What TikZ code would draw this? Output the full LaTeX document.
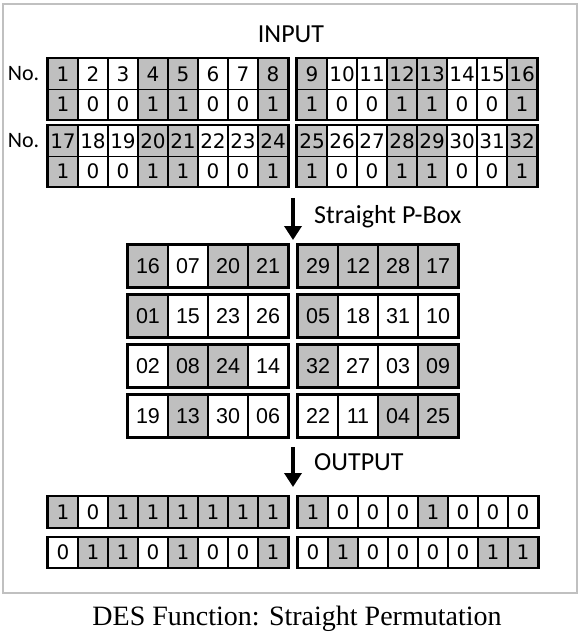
\documentclass[tikz,border=0pt]{standalone}
\usepackage{fontspec}
\setmainfont{Liberation Serif}
\newfontfamily\labelfont{Carlito}
\newfontfamily\bitfont{DejaVu Sans}
\newfontfamily\boxfont{Liberation Sans}
\usetikzlibrary{arrows.meta}

\definecolor{shade}{RGB}{191,191,191}
\definecolor{framegray}{RGB}{192,192,192}

\tikzset{
  bitcell/.style={draw, line width=1.2pt, minimum width=30pt, minimum height=30.5pt,
    inner sep=0pt, font=\bitfont\fontsize{20}{20}\selectfont},
  pcell/.style={draw, line width=1.2pt, minimum width=40pt, minimum height=42pt,
    inner sep=0pt, font=\boxfont\fontsize{21.5}{21.5}\selectfont},
  blockline/.style={line width=2.2pt},
  heading/.style={font=\labelfont\fontsize{26}{26}\selectfont, inner sep=0pt},
  rowlabel/.style={font=\labelfont\fontsize{22}{22}\selectfont, inner sep=0pt},
  flow/.style={-{Triangle[width=17pt,length=14pt]}, line width=3.5pt}
}

\begin{document}
\begin{tikzpicture}[x=1pt, y=-1pt]
\useasboundingbox (0,0) rectangle (582,636);

% outer frame
\draw[framegray, line width=2pt] (3,4) rectangle (577,593);

% INPUT
\node[heading] (input) at (291,34) {INPUT};

% Input blocks: first number, x of first cell, y of number row
\foreach \g/\x/\y in {0/63/74, 8/312/74, 16/63/141, 24/312/141}{
  \foreach \c/\b [count=\k from 0] in {shade/1, white/0, white/0, shade/1,
                                       shade/1, white/0, white/0, shade/1}{
    \pgfmathtruncatemacro\n{\g+\k+1}
    \node[bitcell, fill=\c] (no\n) at (\x+30*\k, \y) {\n};
    \node[bitcell, fill=\c] (bit\n) at (\x+30*\k, \y+30.5) {\b};
  }
}
\draw[blockline] (no1.north west) rectangle (bit8.south east);
\draw[blockline] (no9.north west) rectangle (bit16.south east);
\draw[blockline] (no17.north west) rectangle (bit24.south east);
\draw[blockline] (no25.north west) rectangle (bit32.south east);

% No. labels
\node[rowlabel, anchor=east] (rowA) at ([xshift=-8pt]no1.west) {No.};
\node[rowlabel, anchor=east] (rowB) at ([xshift=-8pt]no17.west) {No.};

% arrow into the P-box
\coordinate (pboxTop) at (293,198);
\coordinate (pboxIn) at (293,240);
\draw[flow] (pboxTop) -- (pboxIn);
\node[heading, anchor=west] (pboxlabel) at (314,217) {Straight P-Box};

% Straight P-Box table (row, x of first cell, value/colour)
\foreach \r/\x/\cells in {
    0/148/{16/shade,07/white,20/shade,21/shade},
    0/318/{29/shade,12/shade,28/shade,17/shade},
    1/148/{01/shade,15/white,23/white,26/white},
    1/318/{05/shade,18/white,31/white,10/white},
    2/148/{02/white,08/shade,24/shade,14/white},
    2/318/{32/shade,27/white,03/white,09/shade},
    3/148/{19/white,13/shade,30/white,06/white},
    3/318/{22/white,11/white,04/shade,25/shade}}{
  \foreach \v/\c [count=\k from 0] in \cells{
    \node[pcell, fill=\c] (p\r-\x-\k) at (\x+40*\k, 266+50*\r) {\v};
  }
  \draw[blockline] (p\r-\x-0.north west) rectangle (p\r-\x-3.south east);
}

% arrow to the output
\coordinate (outTop) at (293,447);
\coordinate (outIn) at (293,487);
\draw[flow] (outTop) -- (outIn);
\node[heading, anchor=west] (output) at (314,462) {OUTPUT};

% Output bits (row, x of first cell, y)
\foreach \r/\x/\y/\cells in {
    a/63/512/{1/shade,0/white,1/shade,1/shade,1/shade,1/shade,1/shade,1/shade},
    b/313/512/{1/shade,0/white,0/white,0/white,1/shade,0/white,0/white,0/white},
    c/63/552.5/{0/white,1/shade,1/shade,0/white,1/shade,0/white,0/white,1/shade},
    d/313/552.5/{0/white,1/shade,0/white,0/white,0/white,0/white,1/shade,1/shade}}{
  \foreach \v/\c [count=\k from 0] in \cells{
    \node[bitcell, fill=\c] (out\r\k) at (\x+30*\k, \y) {\v};
  }
  \draw[blockline] (out\r0.north west) rectangle (out\r7.south east);
}

% caption
\node[font=\fontsize{28}{28}\selectfont, anchor=base, inner sep=0pt] (caption) at (297,625)
  {DES Function: Straight Permutation};

\end{tikzpicture}
\end{document}
